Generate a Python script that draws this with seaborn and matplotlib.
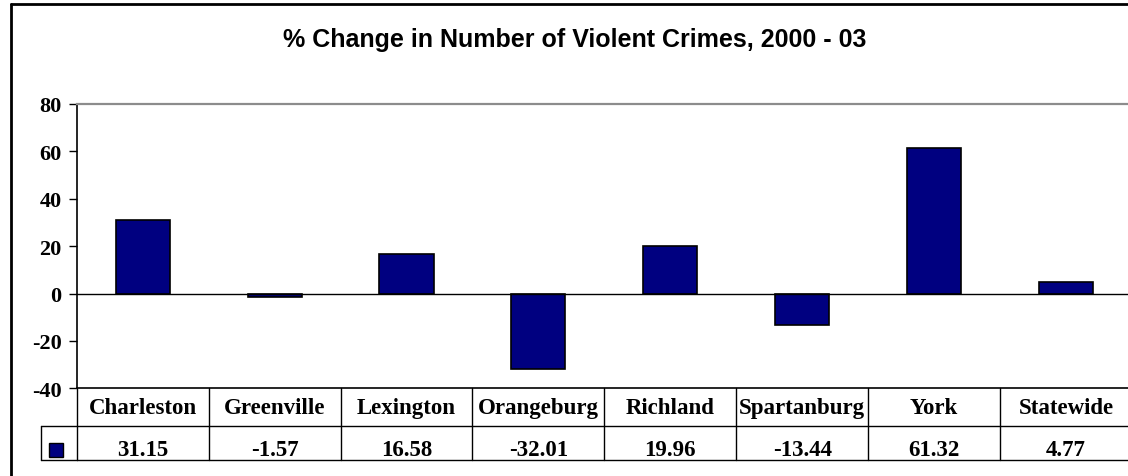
import matplotlib
matplotlib.use("Agg")
import matplotlib.pyplot as plt
import matplotlib.transforms as mtransforms
import pandas as pd
import seaborn as sns

# chart data
counties = ["Charleston", "Greenville", "Lexington", "Orangeburg",
            "Richland", "Spartanburg", "York", "Statewide"]
pct_change = [31.15, -1.57, 16.58, -32.01, 19.96, -13.44, 61.32, 4.77]
y_ticks = [-40, -20, 0, 20, 40, 60, 80]
title = "% Change in Number of Violent Crimes, 2000 - 03"

BAR = "#000080"
SERIF = ["Liberation Serif", "DejaVu Serif"]

sns.set_theme(style="white")
plt.rcParams["font.family"] = SERIF
plt.rcParams["text.color"] = "black"
plt.rcParams["ytick.labelcolor"] = "black"

df = pd.DataFrame({"county": counties, "change": pct_change})

fig = plt.figure(figsize=(11.28, 4.77), dpi=100)
W, H = 1128, 477
# plot area in pixels: x 76.7..1132, y 105..389.3 (from top)
ax = fig.add_axes([76.7 / W, 1 - 389.3 / H, (1132 - 76.7) / W, 284.3 / H])

sns.barplot(data=df, x="county", y="change", color=BAR, saturation=1,
            edgecolor="black", linewidth=1.2, width=0.41, ax=ax)

ax.set_xlim(-0.5, len(counties) - 0.5)
ax.set_ylim(y_ticks[0], y_ticks[-1])
ax.set_yticks(y_ticks)
ax.set_yticklabels([str(t) for t in y_ticks], fontsize=16, fontweight="bold",
                   family=SERIF, color="black")
ax.tick_params(axis="y", direction="out", length=5.5, width=1, color="black",
               pad=5.5, left=True)
ax.set_xticks([])
ax.set_xlabel("")
ax.set_ylabel("")

ax.axhline(0, color="black", lw=1, zorder=1)
for side in ["left", "bottom"]:
    ax.spines[side].set_color("black")
    ax.spines[side].set_linewidth(1.2)
ax.spines["top"].set_color("#8c8c8c")
ax.spines["top"].set_linewidth(1.6)
ax.spines["right"].set_visible(False)

# data table under the plot
trans = mtransforms.blended_transform_factory(ax.transData, ax.transAxes)
row1 = -38 / 284.3
row2 = -71.4 / 284.3
legend_left = -35.4 / 1055.3
n = len(counties)
line_kw = dict(color="black", lw=1, clip_on=False)

ax.plot([-0.5, n - 0.5], [row1, row1], transform=trans, **line_kw)
ax.plot([-0.5, n - 0.5], [row2, row2], transform=trans, **line_kw)
ax.plot([legend_left, 0], [row1, row1], transform=ax.transAxes, **line_kw)
ax.plot([legend_left, 0], [row2, row2], transform=ax.transAxes, **line_kw)
ax.plot([legend_left, legend_left], [row1, row2], transform=ax.transAxes, **line_kw)
for i in range(n + 1):
    ax.plot([i - 0.5, i - 0.5], [0, row2], transform=trans, **line_kw)

for i, (name, val) in enumerate(zip(counties, pct_change)):
    ax.text(i, row1 / 2, name, transform=trans, ha="center", va="center",
            fontsize=16.5, fontweight="bold", family=SERIF, color="black")
    ax.text(i, (row1 + row2) / 2 - 0.022, f"{val:.2f}", transform=trans,
            ha="center", va="center", fontsize=16.5, fontweight="bold",
            family=SERIF, color="black")

ax.plot([legend_left / 2 - 0.003], [row1 + (row2 - row1) * 0.7],
        marker="s", markersize=10.5, markerfacecolor=BAR, markeredgecolor="black",
        markeredgewidth=1, transform=ax.transAxes, clip_on=False)

# chart title
fig.text(575 / W, 1 - 40 / H, title, ha="center", va="center", color="black",
         fontsize=18, fontweight="bold", family=["Liberation Sans", "DejaVu Sans"])

# outer chart frame (left and top edges are visible)
fig.add_artist(plt.Line2D([10.5 / W, 10.5 / W], [0, 1 - 5 / H], color="black", lw=2))
fig.add_artist(plt.Line2D([10.5 / W, 1], [1 - 5 / H, 1 - 5 / H], color="black", lw=2))

fig.savefig("out.png", dpi=100)
